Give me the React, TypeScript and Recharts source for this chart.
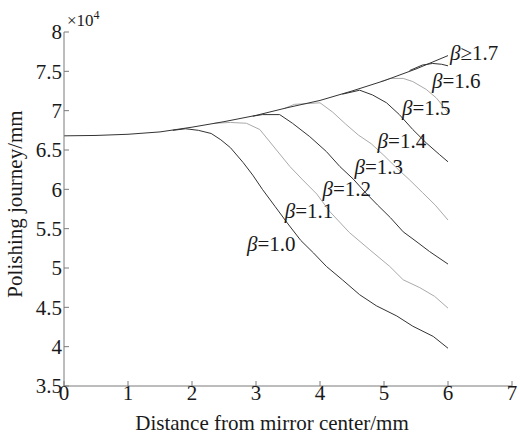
import { LineChart, Line, XAxis, YAxis, ReferenceDot } from 'recharts';

type Pt = [number, number];

// distance from mirror center (mm) vs polishing journey (x10^4 mm)
const beta10: Pt[] = [
  [1.7, 6.75], [1.9, 6.77], [2.1, 6.75], [2.3, 6.71], [2.45, 6.63], [2.6, 6.53], [2.8, 6.34],
  [2.95, 6.18], [3.1, 6.0], [3.3, 5.78], [3.5, 5.56], [3.7, 5.35], [3.9, 5.19], [4.1, 5.02],
  [4.35, 4.85], [4.62, 4.66], [4.88, 4.52], [5.2, 4.39], [5.45, 4.26], [5.77, 4.13], [6, 3.98],
];
const beta11: Pt[] = [
  [2.35, 6.84], [2.6, 6.85], [2.85, 6.84], [3.06, 6.76], [3.32, 6.5], [3.53, 6.29], [3.73, 6.12],
  [3.95, 5.94], [4.15, 5.72], [4.46, 5.45], [4.78, 5.23], [5.09, 5.02], [5.3, 4.85], [5.56, 4.75],
  [5.79, 4.64], [6, 4.49],
];
const beta12: Pt[] = [
  [2.95, 6.93], [3.1, 6.95], [3.37, 6.95], [3.57, 6.84], [3.84, 6.67], [4.1, 6.48], [4.31, 6.29],
  [4.52, 6.13], [4.72, 5.95], [4.9, 5.8], [5.1, 5.64], [5.3, 5.46], [5.5, 5.34], [5.71, 5.21], [6, 5.05],
];
const beta13: Pt[] = [
  [3.45, 7.03], [3.6, 7.08], [4.0, 7.1], [4.2, 6.98], [4.4, 6.83], [4.6, 6.69], [4.8, 6.58],
  [5.0, 6.43], [5.2, 6.27], [5.4, 6.12], [5.6, 5.96], [5.8, 5.8], [6, 5.61],
];
const beta14: Pt[] = [
  [4.35, 7.21], [4.62, 7.26], [4.82, 7.2], [5.04, 7.1], [5.24, 6.95], [5.45, 6.76], [5.66, 6.59],
  [5.87, 6.44], [6, 6.35],
];
const beta15: Pt[] = [
  [4.95, 7.37], [5.1, 7.41], [5.3, 7.41], [5.45, 7.37], [5.66, 7.27], [5.82, 7.16], [5.92, 7.06], [6, 6.98],
];
const beta16: Pt[] = [[5.4, 7.51], [5.6, 7.58], [5.76, 7.6], [5.9, 7.59], [6, 7.57]];
const beta17: Pt[] = [
  [0, 6.68], [0.5, 6.685], [1, 6.7], [1.5, 6.73], [2, 6.79], [2.5, 6.86], [3, 6.94], [3.5, 7.04],
  [4, 7.13], [4.5, 7.25], [5, 7.38], [5.5, 7.53], [6, 7.7],
];

const xTicks = [0, 1, 2, 3, 4, 5, 6, 7];
const yTicks = [3.5, 4, 4.5, 5, 5.5, 6, 6.5, 7, 7.5, 8];

const labelText = ['≥1.7', '=1.6', '=1.5', '=1.4', '=1.3', '=1.2', '=1.1', '=1.0'];
const labelX = [6.03, 5.75, 5.28, 4.9, 4.54, 4.04, 3.45, 2.86];
const labelY = [7.65, 7.29, 6.94, 6.53, 6.19, 5.91, 5.63, 5.22];

const DARK = '#333';
const LIGHT = '#aaa';
const AXIS = '#7a7a7a';
const TEXT = '#1a1a1a';
const FONT = 'Liberation Serif';

const toRows = (pts: Pt[]) => pts.map(([x, y]) => ({ x, y }));

// light curves drawn first so the dark ones sit on top
const series = [
  { data: beta11, color: LIGHT },
  { data: beta13, color: LIGHT },
  { data: beta15, color: LIGHT },
  { data: beta10, color: DARK },
  { data: beta12, color: DARK },
  { data: beta14, color: DARK },
  { data: beta16, color: DARK },
  { data: beta17, color: DARK },
];

export default function App() {
  return (
    <div style={{ position: 'fixed', left: 0, top: 0, background: '#fff', fontFamily: FONT }}>
      <LineChart width={520} height={435} margin={{ top: 32, right: 8, bottom: 0, left: 0 }}>
        <XAxis
          type="number"
          dataKey="x"
          domain={[0, 7]}
          ticks={xTicks}
          height={49}
          allowDataOverflow
          stroke={AXIS}
          tickSize={-5}
          tickMargin={4}
          tick={{ fill: TEXT, fontSize: 21, fontFamily: FONT }}
          label={{
            content: () => (
              <text x={272} y={430} textAnchor="middle" fill={TEXT} fontSize={21} fontFamily={FONT}>
                Distance from mirror center/mm
              </text>
            ),
          }}
        />
        <XAxis
          xAxisId="top"
          orientation="top"
          type="number"
          domain={[0, 7]}
          ticks={xTicks}
          height={0}
          allowDataOverflow
          stroke={AXIS}
          tickSize={-5}
          tick={false}
        />
        <YAxis
          type="number"
          domain={[3.5, 8]}
          ticks={yTicks}
          width={64}
          allowDataOverflow
          stroke={AXIS}
          tickSize={-5}
          tickMargin={7}
          tick={{ fill: TEXT, fontSize: 21, fontFamily: FONT }}
          label={{
            content: () => (
              <g>
                <text
                  x={22}
                  y={204}
                  transform="rotate(-90 22 204)"
                  textAnchor="middle"
                  fill={TEXT}
                  fontSize={21}
                  fontFamily={FONT}
                >
                  Polishing journey/mm
                </text>
                <text x={67} y={26} fill={TEXT} fontSize={17} fontFamily={FONT}>
                  ×10
                  <tspan fontSize={12} dy={-7}>4</tspan>
                </text>
              </g>
            ),
          }}
        />
        <YAxis
          yAxisId="right"
          orientation="right"
          type="number"
          domain={[3.5, 8]}
          ticks={yTicks}
          width={0}
          allowDataOverflow
          stroke={AXIS}
          tickSize={-5}
          tick={false}
        />

        {series.map((s, i) => (
          <Line
            key={i}
            data={toRows(s.data)}
            dataKey="y"
            type="linear"
            stroke={s.color}
            strokeWidth={1}
            dot={false}
            activeDot={false}
            isAnimationActive={false}
          />
        ))}

        {labelText.map((t, i) => (
          <ReferenceDot
            key={t}
            x={labelX[i]}
            y={labelY[i]}
            r={0}
            ifOverflow="visible"
            shape={(p: any) => (
              <text x={p.cx} y={p.cy} fill={TEXT} fontSize={21} fontFamily={FONT}>
                <tspan fontStyle="italic">β</tspan>
                {t}
              </text>
            )}
          />
        ))}
      </LineChart>
    </div>
  );
}
